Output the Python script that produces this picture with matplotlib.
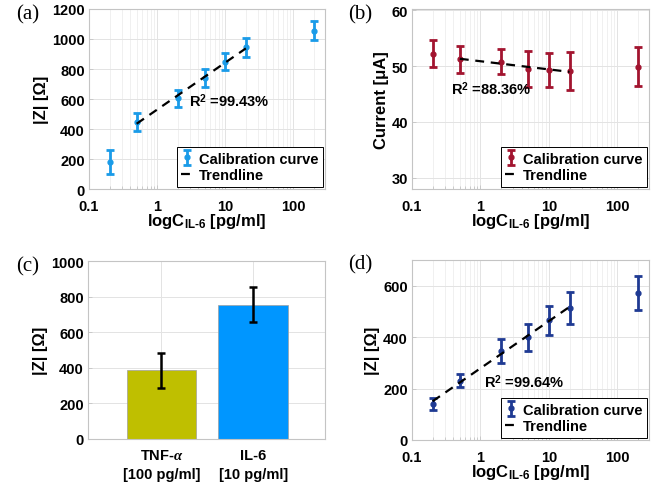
import numpy as np
import matplotlib
matplotlib.use('Agg')
import matplotlib.pyplot as plt
from matplotlib.ticker import LogLocator, NullFormatter

# concentration points (pg/ml)
conc = [0.2, 0.5, 2, 5, 10, 20, 200]

# (a) impedance, IL-6
z_a = [180, 449, 605, 740, 849, 945, 1056]
z_a_err = [80, 60, 57, 63, 55, 62, 65]

# (b) current
cur_b = [52.2, 51.2, 50.8, 49.5, 49.3, 49.1, 49.9]
cur_b_err = [2.4, 2.45, 2.3, 3.2, 3.1, 3.45, 3.45]

# (c) bars
bar_labels = ['TNF-$\\alpha$\n[100 pg/ml]', 'IL-6\n[10 pg/ml]']
bar_vals = [385, 755]
bar_err = [97, 97]

# (d) impedance
z_d = [141, 231, 346, 399, 465, 514, 572]
z_d_err = [23, 26, 47, 53, 58, 63, 65]

plt.rcParams['font.family'] = ['Liberation Sans', 'DejaVu Sans']
plt.rcParams['font.weight'] = 'bold'
plt.rcParams['mathtext.fontset'] = 'custom'
plt.rcParams['mathtext.rm'] = 'Liberation Sans:bold'
plt.rcParams['mathtext.it'] = 'Liberation Serif:italic'

W, H = 656, 485
fig = plt.figure(figsize=(W / 100, H / 100), dpi=100)


def box(l, t, r, b):
    return fig.add_axes([l / W, (H - b) / H, (r - l) / W, (b - t) / H])


def style(ax):
    for s in ax.spines.values():
        s.set_color('#c4c4c4')
        s.set_linewidth(0.8)
    ax.tick_params(which='both', direction='in', color='#c4c4c4', labelsize=10.5,
                   length=3, width=0.6, pad=3)
    ax.tick_params(which='minor', length=2)
    ax.tick_params(axis='x', pad=7)
    ax.grid(True, which='major', color='#e3e3e3', linewidth=0.7)
    ax.set_axisbelow(True)


def log_panel(ax, y, yerr, color, fit_idx, ylim, yticks, ylabel, r2, r2pos):
    ax.set_xscale('log')
    eb = ax.errorbar(conc, y, yerr=yerr, fmt='o', ms=3.5, color=color, ecolor=color,
                     elinewidth=2, capsize=3, capthick=2, label='Calibration curve', zorder=3)
    # linear fit against log10(concentration)
    lx = np.log10([conc[i] for i in fit_idx])
    ly = np.array([y[i] for i in fit_idx])
    b, a = np.polyfit(lx, ly, 1)
    xs = np.array([conc[fit_idx[0]], conc[fit_idx[-1]]])
    tl, = ax.plot(xs, a + b * np.log10(xs), '--', color='black', lw=1.6, dashes=(4, 3),
                  label='Trendline', zorder=4)
    ax.set_xlim(0.1, 290)
    ax.set_ylim(*ylim)
    ax.set_yticks(yticks)
    ax.set_yticklabels([str(v) for v in yticks], fontweight='bold')
    ax.set_xticks([0.1, 1, 10, 100])
    ax.set_xticklabels(['0.1', '1', '10', '100'], fontweight='bold')
    ax.xaxis.set_minor_locator(LogLocator(base=10, subs=np.arange(2, 10)))
    ax.xaxis.set_minor_formatter(NullFormatter())
    style(ax)
    ax.grid(True, which='minor', axis='x', color='#eeeeee', linewidth=0.6)
    ax.set_xlabel('logC$_{\\mathrm{IL\\text{-}6}}$ [pg/ml]', fontsize=12, fontweight='bold', labelpad=-1)
    ax.set_ylabel(ylabel, fontsize=12, fontweight='bold', labelpad=2)
    ax.text(r2pos[0], r2pos[1], r2, fontsize=10.5, fontweight='bold', va='center', ha='left')
    leg = ax.legend([eb, tl], ['Calibration curve', 'Trendline'], loc='lower right',
                    fontsize=10.5, handlelength=0.8, handletextpad=0.4,
                    borderpad=0.3, labelspacing=0.2, fancybox=False, framealpha=1,
                    edgecolor='black', borderaxespad=0.15)
    leg.get_frame().set_linewidth(0.7)
    for t in leg.get_texts():
        t.set_fontweight('bold')


ax_a = box(89, 10, 325, 190)
log_panel(ax_a, z_a, z_a_err, '#1a9be8', [1, 2, 3, 4, 5], (0, 1200),
          [0, 200, 400, 600, 800, 1000, 1200], '|Z| [Ω]', 'R$^2$ =99.43%', (2.9, 590))

ax_b = box(412, 10, 649, 190)
log_panel(ax_b, cur_b, cur_b_err, '#a2142f', [1, 2, 3, 4, 5], (28, 60.2),
          [30, 40, 50, 60], 'Current [μA]', 'R$^2$ =88.36%', (0.37, 46.0))

ax_d = box(412, 261, 649, 441)
log_panel(ax_d, z_d, z_d_err, '#1f3a93', [0, 1, 2, 3, 4, 5], (0, 700),
          [0, 200, 400, 600], '|Z| [Ω]', 'R$^2$ =99.64%', (1.11, 231))

# (c) bar chart
ax_c = box(88, 262, 325, 440)
pos = [1, 2]
ax_c.bar(pos, bar_vals, width=0.76, color=['#bfbf00', '#0096ff'], edgecolor='#a0a0a0',
         linewidth=0.5, zorder=2)
ax_c.errorbar(pos, bar_vals, yerr=bar_err, fmt='none', ecolor='black', elinewidth=1.8,
              capsize=3, capthick=1.8, zorder=3)
ax_c.set_xlim(0.2, 2.78)
ax_c.set_ylim(0, 1000)
c_ticks = [0, 200, 400, 600, 800, 1000]
ax_c.set_yticks(c_ticks)
ax_c.set_yticklabels([str(v) for v in c_ticks], fontweight='bold')
ax_c.set_xticks(pos)
ax_c.set_xticklabels(bar_labels, fontsize=10.5, linespacing=1.45, fontweight='bold')
style(ax_c)
ax_c.tick_params(axis='x', pad=6.5)
ax_c.set_ylabel('|Z| [Ω]', fontsize=12, fontweight='bold', labelpad=2)

# panel letters
for lab, (px, py) in zip(['(a)', '(b)', '(c)', '(d)'],
                         [(28, 15), (360, 15), (28, 267), (360, 265)]):
    fig.text(px / W, 1 - py / H, lab, family='Liberation Serif', fontsize=15,
             fontweight='normal', ha='center', va='center')

fig.savefig('out.png', dpi=100)
